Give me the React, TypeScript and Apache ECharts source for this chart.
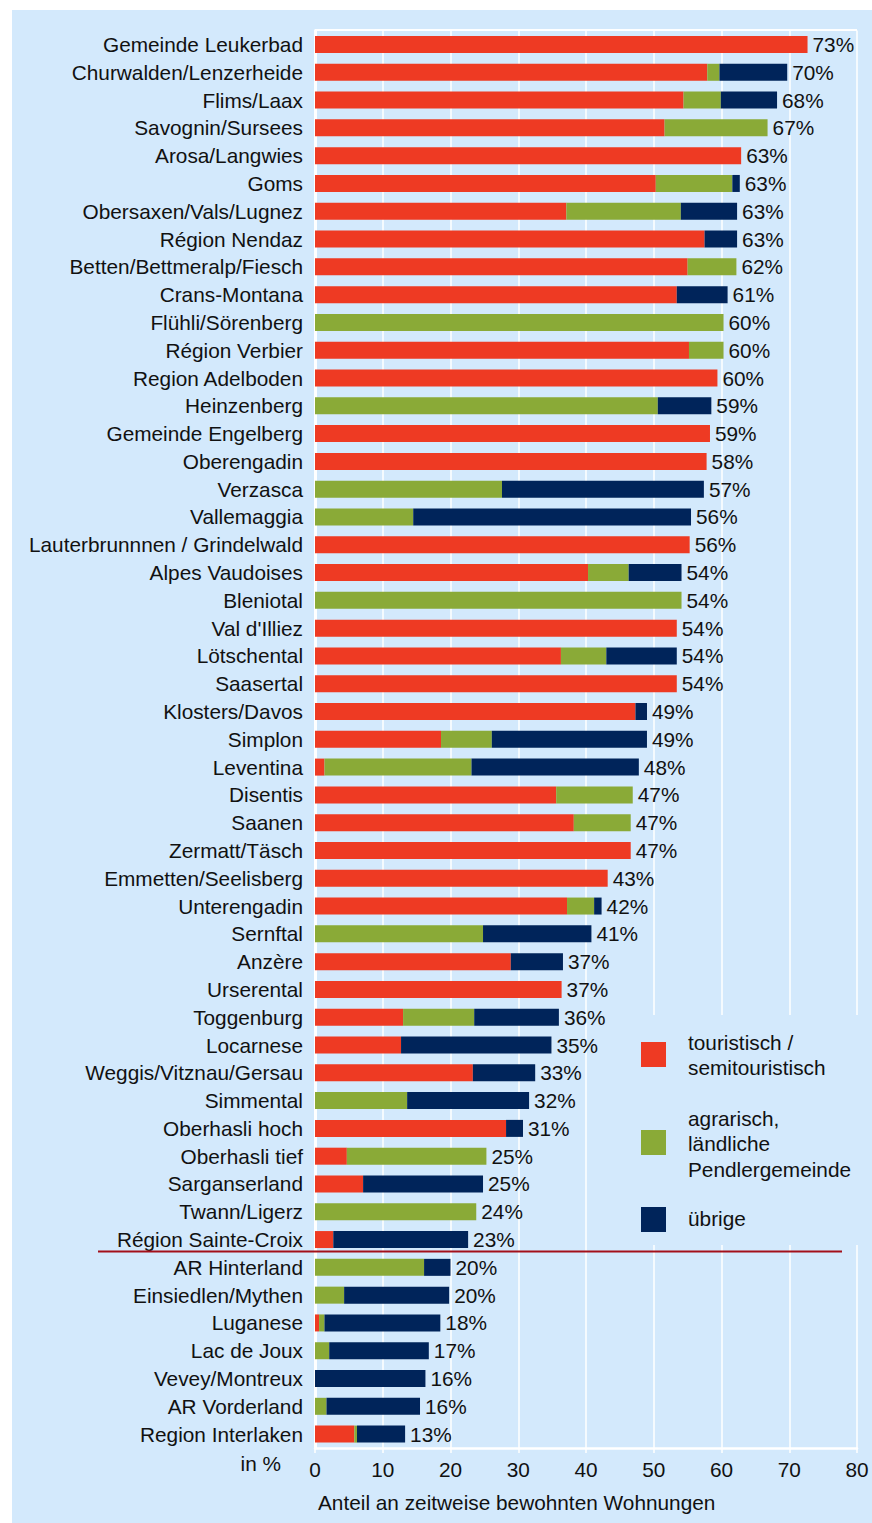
import React, { useEffect, useRef } from "react";
import * as echarts from "echarts";

const categories = [
  "Gemeinde Leukerbad", "Churwalden/Lenzerheide", "Flims/Laax", "Savognin/Sursees", "Arosa/Langwies",
  "Goms", "Obersaxen/Vals/Lugnez", "Région Nendaz", "Betten/Bettmeralp/Fiesch", "Crans-Montana",
  "Flühli/Sörenberg", "Région Verbier", "Region Adelboden", "Heinzenberg", "Gemeinde Engelberg",
  "Oberengadin", "Verzasca", "Vallemaggia", "Lauterbrunnnen / Grindelwald", "Alpes Vaudoises",
  "Bleniotal", "Val d'Illiez", "Lötschental", "Saasertal", "Klosters/Davos",
  "Simplon", "Leventina", "Disentis", "Saanen", "Zermatt/Täsch",
  "Emmetten/Seelisberg", "Unterengadin", "Sernftal", "Anzère", "Urserental",
  "Toggenburg", "Locarnese", "Weggis/Vitznau/Gersau", "Simmental", "Oberhasli hoch",
  "Oberhasli tief", "Sarganserland", "Twann/Ligerz", "Région Sainte-Croix", "AR Hinterland",
  "Einsiedlen/Mythen", "Luganese", "Lac de Joux", "Vevey/Montreux", "AR Vorderland",
  "Region Interlaken",
];

const touristisch = [
  72.7, 57.9, 54.4, 51.6, 62.9,
  50.3, 37.1, 57.5, 55.0, 53.4,
  0, 55.2, 59.4, 0, 58.3,
  57.8, 0, 0, 55.3, 40.3,
  0, 53.4, 36.3, 53.4, 47.3,
  18.6, 1.4, 35.6, 38.2, 46.6,
  43.2, 37.2, 0, 28.9, 36.4,
  13.0, 12.7, 23.3, 0, 28.2,
  4.7, 7.1, 0, 2.7, 0,
  0, 0.6, 0, 0, 0,
  5.8,
];

const agrarisch = [
  0, 1.8, 5.5, 15.2, 0,
  11.3, 16.9, 0, 7.2, 0,
  60.3, 5.1, 0, 50.6, 0,
  0, 27.6, 14.5, 0, 6.0,
  54.1, 0, 6.7, 0, 0,
  7.5, 21.7, 11.3, 8.4, 0,
  0, 4.0, 24.8, 0, 0,
  10.5, 0, 0, 13.6, 0,
  20.6, 0, 23.8, 0, 16.1,
  4.3, 0.8, 2.1, 0, 1.7,
  0.4,
];

const uebrige = [
  0, 10.0, 8.3, 0, 0,
  1.1, 8.3, 4.8, 0, 7.5,
  0, 0, 0, 7.9, 0,
  0, 29.8, 41.0, 0, 7.8,
  0, 0, 10.4, 0, 1.7,
  22.9, 24.7, 0, 0, 0,
  0, 1.1, 16.0, 7.7, 0,
  12.5, 22.2, 9.2, 18.0, 2.5,
  0, 17.7, 0, 19.9, 3.9,
  15.5, 17.1, 14.7, 16.3, 13.8,
  7.1,
];

const totalLabels = [
  "73%", "70%", "68%", "67%", "63%",
  "63%", "63%", "63%", "62%", "61%",
  "60%", "60%", "60%", "59%", "59%",
  "58%", "57%", "56%", "56%", "54%",
  "54%", "54%", "54%", "54%", "49%",
  "49%", "48%", "47%", "47%", "47%",
  "43%", "42%", "41%", "37%", "37%",
  "36%", "35%", "33%", "32%", "31%",
  "25%", "25%", "24%", "23%", "20%",
  "20%", "18%", "17%", "16%", "16%",
  "13%",
];

const xTicks = [0, 80, 10];
const seriesNames = ["touristisch / semitouristisch", "agrarisch, ländliche Pendlergemeinde", "übrige"];

const FONT = "'Liberation Sans', Arial, sans-serif";
const FS = 20.8;
const RED = "#ee3a23";
const GREEN = "#8aaa37";
const NAVY = "#00245a";
const PANEL = "#d3e9fc";
const TEXT = "#111111";

export default function App() {
  const ref = useRef<HTMLDivElement>(null);

  useEffect(() => {
    if (!ref.current) return;
    const chart = echarts.init(ref.current, null, { renderer: "svg" });

    const legendItems = [
      { color: RED, y: 1042, lines: ["touristisch /", "semitouristisch"], ty: 1042 },
      { color: GREEN, y: 1130, lines: ["agrarisch,", "ländliche", "Pendlergemeinde"], ty: 1118 },
      { color: NAVY, y: 1207, lines: ["übrige"], ty: 1218 },
    ];

    const graphic: any[] = [
      {
        type: "rect",
        z: 50,
        shape: { x: 625, y: 1015, width: 240, height: 230 },
        style: { fill: PANEL },
      },
      {
        type: "line",
        z: 60,
        shape: { x1: 315, y1: 30, x2: 857, y2: 30 },
        style: { stroke: "#ffffff", lineWidth: 2 },
      },
      {
        type: "line",
        z: 60,
        shape: { x1: 98, y1: 1251.5, x2: 842, y2: 1251.5 },
        style: { stroke: "#a3101a", lineWidth: 2 },
      },
      {
        type: "text",
        z: 60,
        x: 281,
        y: 1463,
        style: { text: "in %", font: `${FS}px ${FONT}`, fill: TEXT, align: "right", verticalAlign: "middle" },
      },
      {
        type: "text",
        z: 60,
        x: 318,
        y: 1502,
        style: {
          text: "Anteil an zeitweise bewohnten Wohnungen",
          font: `${FS}px ${FONT}`,
          fill: TEXT,
          align: "left",
          verticalAlign: "middle",
        },
      },
    ];

    legendItems.forEach((item, i) => {
      graphic.push({
        type: "rect",
        z: 60,
        shape: { x: 641, y: item.y, width: 25, height: 25 },
        style: { fill: item.color },
        name: seriesNames[i],
      });
      item.lines.forEach((line, j) => {
        graphic.push({
          type: "text",
          z: 60,
          x: 688,
          y: item.ty + j * 25.5,
          style: { text: line, font: `${FS}px ${FONT}`, fill: TEXT, align: "left", verticalAlign: "middle" },
        });
      });
    });

    const barCommon = {
      type: "bar",
      stack: "total",
      barWidth: 17,
      emphasis: { disabled: true },
    };

    chart.setOption({
      animation: false,
      backgroundColor: "transparent",
      textStyle: { fontFamily: FONT },
      grid: { left: 315, top: 30.6, width: 542, height: 1417.4, show: false, containLabel: false },
      xAxis: {
        type: "value",
        min: xTicks[0],
        max: xTicks[1],
        interval: xTicks[2],
        axisLine: { show: true, lineStyle: { color: "#ffffff", width: 2.5 } },
        axisTick: { show: true, length: 5, lineStyle: { color: "#ffffff", width: 1.5 } },
        splitLine: { show: true, lineStyle: { color: "#ffffff", width: 1.5 } },
        axisLabel: { fontSize: FS, color: TEXT, margin: 11, fontFamily: FONT },
      },
      yAxis: {
        type: "category",
        data: categories,
        inverse: true,
        axisLine: { show: true, lineStyle: { color: "#ffffff", width: 3 } },
        axisTick: { show: false },
        splitLine: { show: false },
        axisLabel: { fontSize: FS, color: TEXT, margin: 12, interval: 0, fontFamily: FONT },
      },
      series: [
        { ...barCommon, name: seriesNames[0], data: touristisch, itemStyle: { color: RED } },
        { ...barCommon, name: seriesNames[1], data: agrarisch, itemStyle: { color: GREEN } },
        {
          ...barCommon,
          name: seriesNames[2],
          data: uebrige,
          itemStyle: { color: NAVY },
          label: {
            show: true,
            position: "right",
            distance: 5,
            fontSize: FS,
            color: TEXT,
            fontFamily: FONT,
            formatter: (p: any) => totalLabels[p.dataIndex],
          },
        },
      ],
      graphic,
    });

    return () => {
      chart.dispose();
    };
  }, []);

  return (
    <div style={{ position: "absolute", left: 0, top: 0, width: 872, height: 1523, background: "#ffffff" }}>
      <div style={{ position: "absolute", left: 12, top: 10, right: 0, bottom: 0, background: PANEL }} />
      <div ref={ref} style={{ position: "absolute", left: 0, top: 0, width: 872, height: 1523 }} />
    </div>
  );
}
